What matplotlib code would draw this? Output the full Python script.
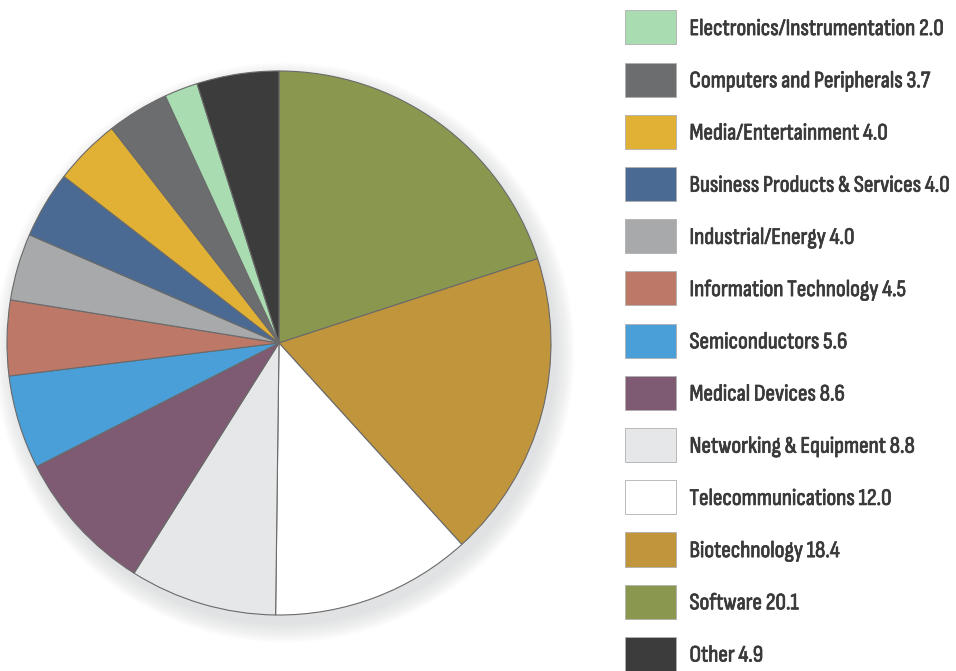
import matplotlib.pyplot as plt
import matplotlib.patheffects as pe
from matplotlib.patches import Circle

# sectors in clockwise order starting at 12 o'clock
sectors = ['Software', 'Biotechnology', 'Telecommunications',
           'Networking & Equipment', 'Medical Devices', 'Semiconductors',
           'Information Technology', 'Industrial/Energy',
           'Business Products & Services', 'Media/Entertainment',
           'Computers and Peripherals', 'Electronics/Instrumentation', 'Other']
shares = [20.1, 18.4, 12.0, 8.8, 8.6, 5.6, 4.5, 4.0, 4.0, 4.0, 3.7, 2.0, 4.9]
colors = ['#8a984f', '#c0953b', '#ffffff', '#e6e7e8', '#7e5b72', '#4a9fd9',
          '#be7868', '#a8a9ab', '#4a6a93', '#e1b135', '#6c6d6f', '#a9dcb0',
          '#3d3c3d']

# legend order (top to bottom)
legend_order = [11, 10, 9, 8, 7, 6, 5, 4, 3, 2, 1, 0, 12]

plt.rcParams['font.family'] = ['Sofia Sans Condensed', 'DejaVu Sans']

fig = plt.figure(figsize=(9.56, 6.71), dpi=100)
W, H = 956, 671
cx, cy, r = 279, 343, 272
ax = fig.add_axes([(cx - r * 1.02) / W, (H - cy - r * 1.02) / H,
                   2 * r * 1.02 / W, 2 * r * 1.02 / H])

# soft shadow below the pie
for i in range(12):
    ax.add_patch(Circle((0.02, -0.035), 1.0 + 0.006 * i, color='#9a9c9e',
                        alpha=0.025, lw=0, zorder=0, clip_on=False))

wedges, _ = ax.pie(shares, colors=colors, startangle=90, counterclock=False,
                   radius=1.0,
                   wedgeprops=dict(edgecolor='#6a6a6a', linewidth=0.8))
for w in wedges:
    w.set_zorder(2)
ax.set_xlim(-1.02, 1.02)
ax.set_ylim(-1.02, 1.02)
ax.axis('off')

handles = [wedges[i] for i in legend_order]
labels = ['%s %.1f' % (sectors[i], shares[i]) for i in legend_order]
leg = fig.legend(handles, labels, loc='upper left',
                 bbox_to_anchor=(616 / W, 1 - 1 / H), frameon=False,
                 fontsize=17, handlelength=2.16, handleheight=1.84,
                 labelspacing=0.77, handletextpad=0.55, borderaxespad=0)
for t in leg.get_texts():
    t.set_color('#3a3a3a')
    t.set_path_effects([pe.withStroke(linewidth=0.55, foreground='#3a3a3a')])
for p in leg.get_patches():
    p.set_edgecolor('#b0b0b0')
    p.set_linewidth(0.6)

fig.savefig('out.png', dpi=100)
